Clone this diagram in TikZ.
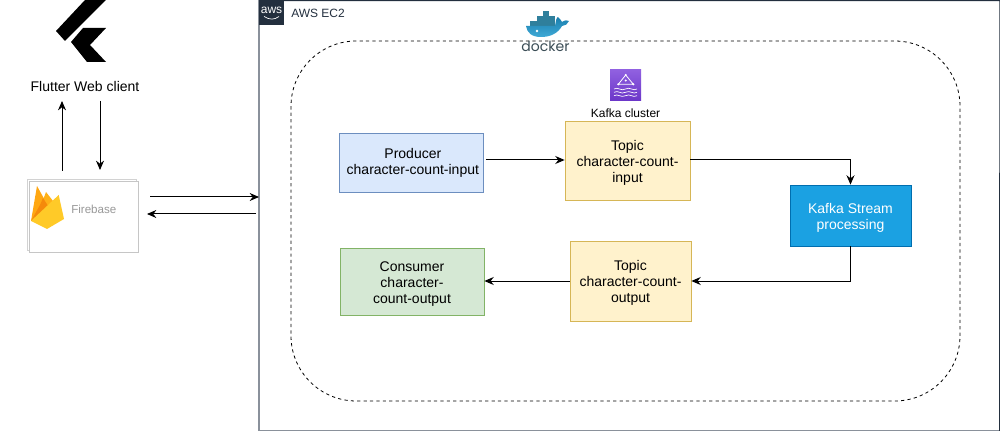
\documentclass[tikz,border=0pt]{standalone}
\usepackage{fontspec}
\setmainfont{Liberation Sans}
\newfontfamily\dockerfont{Poppins}
\usepackage{tikz}
\usetikzlibrary{arrows.meta,calc,positioning}
\definecolor{AwsDark}{HTML}{232F3E}
\definecolor{AwsLine}{HTML}{8A919B}
\definecolor{BlueFill}{HTML}{DAE8FC}
\definecolor{BlueLine}{HTML}{6C8EBF}
\definecolor{TopicFill}{HTML}{FFF2CC}
\definecolor{TopicLine}{HTML}{D6B656}
\definecolor{GreenFill}{HTML}{D5E8D4}
\definecolor{GreenLine}{HTML}{82B366}
\definecolor{StreamFill}{HTML}{1BA1E2}
\definecolor{StreamLine}{HTML}{006EAF}
\definecolor{DockerTop}{HTML}{1A7FAE}
\definecolor{DockerLow}{HTML}{3FA9D6}
\definecolor{DockerBox}{HTML}{2F7F9C}
\definecolor{DockerText}{HTML}{3A4C55}
\definecolor{KafkaTop}{HTML}{9060E0}
\definecolor{KafkaLow}{HTML}{6B36C8}
\definecolor{FlameA}{HTML}{FFA712}
\definecolor{FlameB}{HTML}{F58A0B}
\definecolor{FlameC}{HTML}{FFCA28}
\newcommand{\headroom}{\rule{0pt}{10.5pt}}
\tikzset{
  flowbox/.style={draw, align=center, line width=0.6pt, font=\fontsize{10.5}{12}\selectfont},
  flowline/.style={-{Stealth[length=7pt,width=6pt]}, line width=0.75pt},
  wave/.style={white, line width=0.5pt},
}
\begin{document}
\begin{tikzpicture}[x=0.75pt, y=-0.75pt]
  \useasboundingbox (0,0) rectangle (1000,431);

  % AWS EC2 frame
  \draw[AwsLine, line width=0.9pt] (259,0) -- (259,431) -- (1000,431);
  \draw[AwsDark, line width=0.9pt] (259,0.5) -- (1000,0.5) -- (999.6,431);
  \fill[AwsDark] (259,0) rectangle (284,25);
  \node[white, font=\fontsize{9}{9}\selectfont, inner sep=0pt] (awslogo) at (271.5,10) {aws};
  \draw[white, line width=0.5pt] (264,16.5) .. controls (270,20) and (274,20) .. (279,16.5);
  \node[AwsDark, font=\fontsize{9}{10}\selectfont, inner sep=0pt, anchor=west] (awstext) at (291,13) {AWS EC2};

  % Docker container
  \draw[black, dash pattern=on 2.4pt off 2.4pt, line width=0.6pt, rounded corners=49pt] (291,41) rectangle (960,401);

  % Docker whale
  \fill[DockerBox] (543,11) rectangle (549,16);
  \fill[DockerBox] (537,16) rectangle (555,21);
  \fill[DockerBox] (530,21) rectangle (555,26);
  \shade[top color=DockerTop, bottom color=DockerLow] (526,26) -- (555,26) .. controls (556,21) and (556,18) .. (558,17) .. controls (560,19) and (561,20) .. (562,22) .. controls (565,20) and (567,20) .. (569,21) .. controls (568,24) and (565,26) .. (562,26) .. controls (558,33) and (551,37) .. (541,37) .. controls (532,37) and (527,33) .. (526,26) -- cycle;
  \fill[white] (537,31) circle (1.4);
  \node[DockerText, font=\dockerfont\fontsize{10.5}{12}\selectfont, inner sep=0pt] (dockertext) at (545.5,46) {docker};

  % Kafka icon
  \shade[top color=KafkaTop, bottom color=KafkaLow] (610,70) rectangle (641,101);
  \draw[white, line width=0.6pt] (625.7,75) -- (618.3,84.3) -- (633.3,84.3) -- cycle;
  \fill[white] (625.7,75) circle (1.2) (618.3,84.3) circle (1.2) (633.3,84.3) circle (1.2) (625.7,80.5) circle (1.1);
  \draw[wave] (614,89) .. controls (618,86.5) and (621,91.5) .. (625.5,89) .. controls (630,86.5) and (633,91.5) .. (637,89);
  \draw[wave] (614,92.3) .. controls (618,89.8) and (621,94.8) .. (625.5,92.3) .. controls (630,89.8) and (633,94.8) .. (637,92.3);
  \draw[wave] (614,95.7) .. controls (618,93.2) and (621,98.2) .. (625.5,95.7) .. controls (630,93.2) and (633,98.2) .. (637,95.7);
  \node[font=\fontsize{9}{10}\selectfont, inner sep=0pt] (kafkatext) at (625.5,113.5) {Kafka cluster};

  % Flow boxes
  \node[flowbox, minimum width=107.25pt, minimum height=44.5pt, fill=BlueFill, draw=BlueLine] (producer) at (411.5,163) {\hspace*{2pt}Producer\\\hspace*{2pt}character-count-input};
  \node[flowbox, minimum width=93.75pt, minimum height=59.25pt, fill=TopicFill, draw=TopicLine] (topicin) at (627.5,160.5) {\headroom Topic\\character-count-\\input};
  \node[flowbox, minimum width=90.75pt, minimum height=45.75pt, fill=StreamFill, draw=StreamLine, text=white] (stream) at (850.5,215.5) {\headroom Kafka Stream\\processing};
  \node[flowbox, minimum width=90.75pt, minimum height=60pt, fill=TopicFill, draw=TopicLine] (topicout) at (630.5,281) {\headroom Topic\\character-count-\\output};
  \node[flowbox, minimum width=108pt, minimum height=50.25pt, fill=GreenFill, draw=GreenLine] (consumer) at (412,281.5) {\headroom Consumer\\character-\\count-output};

  % Connectors inside the cluster
  \coordinate (prodout) at ($(producer.east |- 0,160)+(2,0)$);
  \coordinate (topicinleft) at (topicin.west |- 0,160);
  \draw[flowline] (prodout) -- (topicinleft);
  \coordinate (topicinright) at (topicin.east |- 0,160);
  \draw[flowline] (topicinright) -| (stream.north);
  \draw[flowline] (stream.south) |- (topicout.east);
  \draw[flowline] (topicout.west) -- (consumer.east |- topicout.west);

  % Flutter logo
  \fill[black] (85,0) -- (106,0) -- (65,41) -- (56,31) -- cycle;
  \fill[black] (83,28) -- (106,28) -- (90,45) -- (106,62) -- (87,62) -- (71,42) -- cycle;
  \node[font=\fontsize{10.5}{12}\selectfont, inner sep=0pt] (flutter) at (85,86) {Flutter Web client};

  % Firebase
  \draw[gray!35, line width=0.6pt] (27,179) rectangle (136,250);
  \node[draw=gray!45, fill=white, line width=0.6pt, minimum width=81.75pt, minimum height=53.25pt, inner sep=0pt] (firebase) at (83.5,216.5) {};
  \fill[FlameA] (31,221) -- (37,186) -- (52,213) -- cycle;
  \fill[FlameA!70!FlameC] (40,208) -- (46,192) -- (53,201) -- (50,212) -- cycle;
  \fill[FlameB] (31,221) -- (40,205) -- (43,198) -- (50,209) -- cycle;
  \fill[FlameC] (31,221) -- (58.7,195) -- (64,219) -- (47,229) -- cycle;
  \node[gray!80, font=\fontsize{8.7}{10}\selectfont, inner sep=0pt, anchor=west] (firetext) at (71,209) {Firebase};

  % Arrows around Firebase
  \coordinate (fireup) at (62,171);
  \coordinate (flutterup) at (62,101);
  \coordinate (flutterdown) at (100,101);
  \coordinate (firedown) at (100,170);
  \draw[flowline] (fireup) -- (flutterup);
  \draw[flowline] (flutterdown) -- (firedown);
  \coordinate (fireright) at (150,197);
  \coordinate (awsin) at (259,197);
  \coordinate (awsout) at (256,214);
  \coordinate (fireleft) at (147,214);
  \draw[flowline] (fireright) -- (awsin);
  \draw[flowline] (awsout) -- (fireleft);
\end{tikzpicture}
\end{document}
